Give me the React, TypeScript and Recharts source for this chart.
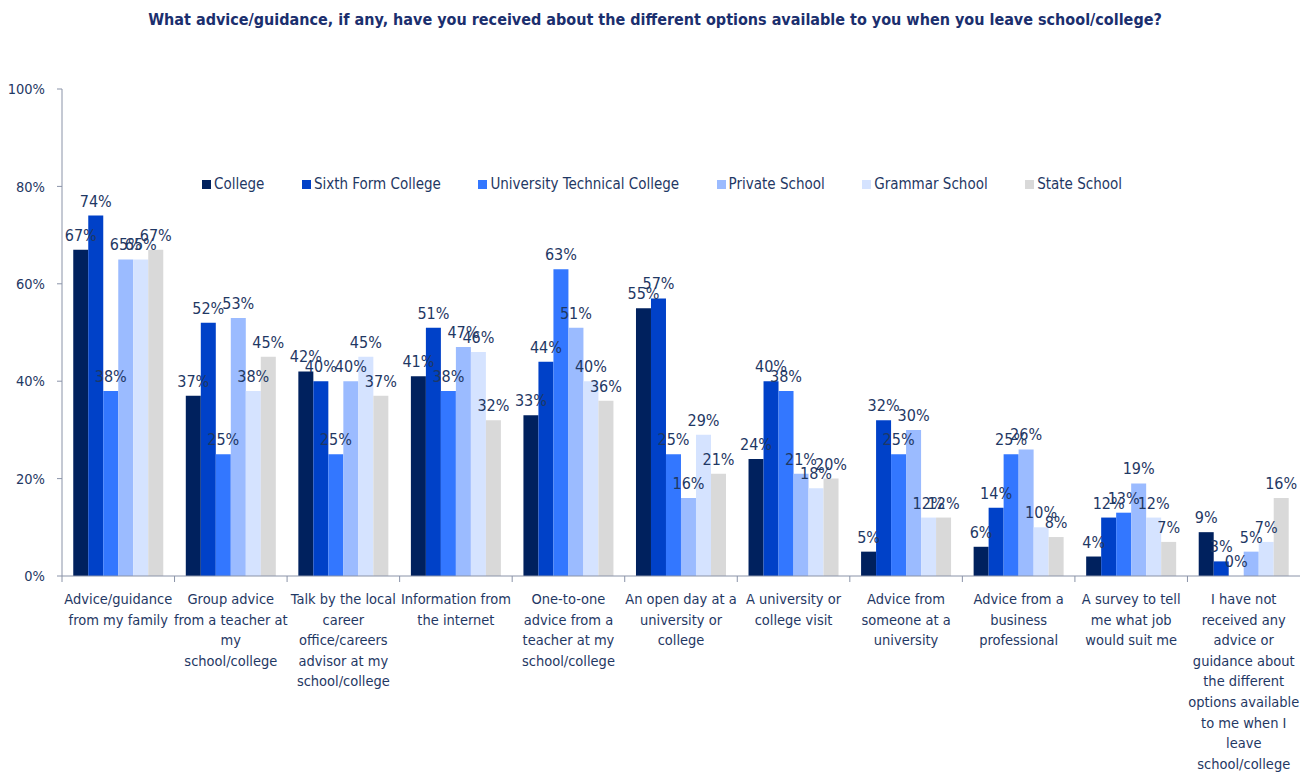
import React from "react"
import { BarChart, Bar, XAxis, YAxis, LabelList } from "recharts"

// Categories (tick labels, pre-wrapped like the original)
const categories = [
  "Advice/guidance\nfrom my family",
  "Group advice\nfrom a teacher at\nmy\nschool/college",
  "Talk by the local\ncareer\noffice/careers\nadvisor at my\nschool/college",
  "Information from\nthe internet",
  "One-to-one\nadvice from a\nteacher at my\nschool/college",
  "An open day at a\nuniversity or\ncollege",
  "A university or\ncollege visit",
  "Advice from\nsomeone at a\nuniversity",
  "Advice from a\nbusiness\nprofessional",
  "A survey to tell\nme what job\nwould suit me",
  "I have not\nreceived any\nadvice or\nguidance about\nthe different\noptions available\nto me when I\nleave\nschool/college",
]

const college = [67, 37, 42, 41, 33, 55, 24, 5, 6, 4, 9]
const sixthForm = [74, 52, 40, 51, 44, 57, 40, 32, 14, 12, 3]
const utc = [38, 25, 25, 38, 63, 25, 38, 25, 25, 13, 0]
const privateSchool = [65, 53, 40, 47, 51, 16, 21, 30, 26, 19, 5]
const grammar = [65, 38, 45, 46, 40, 29, 18, 12, 10, 12, 7]
const state = [67, 45, 37, 32, 36, 21, 20, 12, 8, 7, 16]

const yTicks = [0, 20, 40, 60, 80, 100]

const series = [
  { key: "college", name: "College", values: college, color: "#00215E" },
  { key: "sixth", name: "Sixth Form College", values: sixthForm, color: "#0041C8" },
  { key: "utc", name: "University Technical College", values: utc, color: "#3377FF" },
  { key: "private", name: "Private School", values: privateSchool, color: "#9BBBFF" },
  { key: "grammar", name: "Grammar School", values: grammar, color: "#D5E3FF" },
  { key: "state", name: "State School", values: state, color: "#D9D9D9" },
]

const data = categories.map((cat, i) => {
  const row: Record<string, any> = { category: cat }
  series.forEach((s) => {
    row[s.key] = s.values[i]
  })
  return row
})

const FONT = "'Liberation Sans Narrow', 'Arial Narrow', 'DejaVu Sans Condensed', sans-serif"
const TEXT = "#1F3864"
const AXIS = "#8A93A8"
const BAND = (1300 - 62) / categories.length

const CategoryTick = (props: any) => {
  const { x, y, payload } = props
  const lines = String(payload.value).split("\n")
  return (
    <g>
      <line x1={x - BAND / 2} x2={x - BAND / 2} y1={y - 8} y2={y - 2} stroke={AXIS} />
      <text x={x} y={y + 20} textAnchor="middle" fill={TEXT} fontSize={14.5} fontFamily={FONT}>
        {lines.map((l, i) => (
          <tspan key={i} x={x} dy={i === 0 ? 0 : 20.6}>
            {l}
          </tspan>
        ))}
      </text>
    </g>
  )
}

export default function App() {
  return (
    <div style={{ position: "absolute", left: 0, top: 0, width: 1300, height: 772, background: "#fff" }}>
      <div
        style={{
          position: "absolute",
          top: 10,
          left: 0,
          width: 1310,
          textAlign: "center",
          fontFamily: FONT,
          fontWeight: "bold",
          fontSize: 16,
          color: "#1B2F6E",
        }}
      >
        What advice/guidance, if any, have you received about the different options available to you when you leave school/college?
      </div>

      <div
        style={{
          position: "absolute",
          top: 175,
          left: 202,
          display: "flex",
          fontFamily: FONT,
          fontSize: 15,
          color: TEXT,
          whiteSpace: "nowrap",
        }}
      >
        {series.map((s) => (
          <div key={s.key} style={{ display: "flex", alignItems: "center", marginRight: 37.5 }}>
            <span style={{ display: "inline-block", width: 9, height: 9, background: s.color, marginRight: 3 }} />
            {s.name}
          </div>
        ))}
      </div>

      <BarChart
        width={1300}
        height={772}
        data={data}
        margin={{ top: 89, right: 0, bottom: 0, left: 0 }}
        barCategoryGap="10%"
        barGap={0}
      >
        <XAxis
          dataKey="category"
          interval={0}
          height={196}
          tickLine={false}
          axisLine={{ stroke: AXIS }}
          tick={<CategoryTick />}
        />
        <YAxis
          width={62}
          domain={[0, 100]}
          ticks={yTicks}
          tickFormatter={(v) => `${v}%`}
          axisLine={{ stroke: AXIS }}
          tickLine={{ stroke: AXIS }}
          tickSize={5}
          tickMargin={12}
          tick={{ fill: TEXT, fontSize: 14.5, fontFamily: FONT }}
        />
        {series.map((s) => (
          <Bar
            key={s.key}
            dataKey={s.key}
            name={s.name}
            fill={s.color}
            minPointSize={0.01}
            isAnimationActive={false}
          >
            <LabelList
              dataKey={s.key}
              position="top"
              offset={9}
              formatter={(v: any) => `${v}%`}
              style={{ fill: TEXT, fontSize: 16, fontFamily: FONT }}
            />
          </Bar>
        ))}
      </BarChart>
    </div>
  )
}
